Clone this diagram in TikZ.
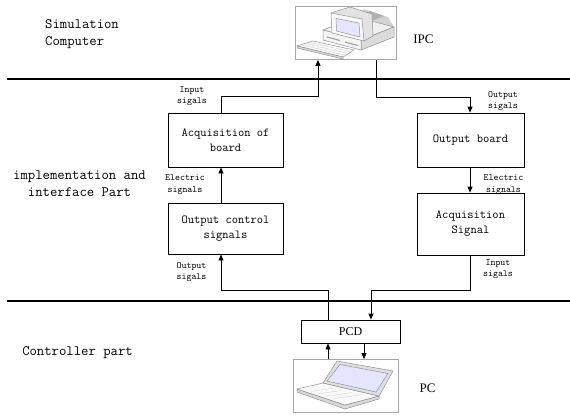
\documentclass[tikz,border=0pt]{standalone}
\usepackage{fontspec}
\setmainfont{Liberation Serif}
\usetikzlibrary{arrows.meta,calc}
\begin{document}
\begin{tikzpicture}[x=1pt,y=-1pt,
  blockbox/.style={draw=black,line width=0.8pt,inner sep=0pt,align=center,
    font=\ttfamily\fontsize{12.2}{15}\selectfont},
  iconbox/.style={draw=gray!70,line width=0.8pt,inner sep=0pt},
  conn/.style={line width=0.8pt,-{Triangle[length=6pt,width=5pt]}},
  sepline/.style={line width=1.6pt},
  siglabel/.style={align=center,inner sep=0pt,font=\ttfamily\fontsize{9.5}{11.5}\selectfont},
  partlabel/.style={inner sep=0pt,font=\ttfamily\fontsize{14.3}{17}\selectfont},
  devlabel/.style={inner sep=0pt,font=\fontsize{13}{15}\selectfont},
  case/.style={draw=gray!85,line width=0.5pt,fill=gray!12},
  screen/.style={draw=gray!85,line width=0.5pt,fill=blue!10},
]
\useasboundingbox (0,0) rectangle (570,416);

% layer separators
\draw[sepline] (7,79) -- (570,79);
\draw[sepline] (7,301) -- (570,301);

% layer names
\node[partlabel,align=left,anchor=west] (lsim) at (45,34.5) {Simulation\\Computer};
\node[partlabel,align=center] (limp) at (79.5,183.5) {implementation and\\interface Part};
\node[partlabel] (lctl) at (77.5,353) {Controller part};

% processing blocks
\node[blockbox,minimum width=115pt,minimum height=54pt] (acqb) at (225.5,140) {Acquisition of\\board};
\node[blockbox,minimum width=115pt,minimum height=51pt] (outc) at (225.5,228.5) {Output control\\signals};
\node[blockbox,minimum width=107pt,minimum height=54pt] (outb) at (470.5,140) {Output board};
\node[blockbox,minimum width=107pt,minimum height=62pt] (acqs) at (470.5,224) {Acquisition\\Signal};
\node[draw=black,line width=0.8pt,inner sep=0pt,minimum width=99pt,minimum height=23pt,
  font=\fontsize{12}{14}\selectfont] (pcd) at (350.5,331.5) {PCD};

% device frames
\node[iconbox,minimum width=101pt,minimum height=53pt] (ipc) at (346,33) {};
\node[iconbox,minimum width=105pt,minimum height=53pt] (pc) at (345.5,386) {};
\node[devlabel] (ipct) at (423.5,39.5) {IPC};
\node[devlabel] (pct) at (427.5,388) {PC};

% desktop computer: case
\fill[gray!35] (356,17) -- (364,9) -- (388,17) -- (394,27) -- cycle;
\draw[case] (323,30) -- (356,17) -- (394,27) -- (361,40) -- cycle;
\fill[gray!60] (360,15) -- (370,11) -- (384,16) -- (374,20) -- cycle;
\draw[case,fill=gray!28] (361,40) -- (394,27) -- (394,37) -- (361,50) -- cycle;
\draw[case,fill=gray!8] (323,30) -- (361,40) -- (361,50) -- (323,40) -- cycle;
\draw[gray!70,line width=1.2pt] (327,37) -- (340,40.5);
\draw[gray!70,line width=1.2pt] (345,42) -- (358,45.5);
% desktop computer: monitor
\draw[case,fill=gray!22] (331,13) -- (350,7) -- (372,14) -- (373,36) -- (364,41) -- cycle;
\draw[case,fill=gray!5] (331,13) -- (362,19) -- (364,41) -- (332,33) -- cycle;
\draw[screen] (336,18.5) -- (359,23) -- (360,37) -- (336.5,31) -- cycle;
% desktop computer: keyboard
\draw[case,fill=gray!4] (297,46) -- (313,41) -- (354,50) -- (343,57) -- cycle;
\draw[case,fill=gray!30] (297,46) -- (343,57) -- (343,59) -- (297,48) -- cycle;
\foreach \t in {0.25,0.5,0.75}
  \draw[gray!45,line width=0.3pt] ($(297,46)!\t!(313,41)$) -- ($(343,57)!\t!(354,50)$);

% laptop: base, keys, lid, screen
\draw[case,fill=gray!30] (297,389) -- (345,405) -- (379,396) -- (379,399) -- (345,409) -- (297,392) -- cycle;
\draw[case,fill=gray!5] (297,389) -- (323,383) -- (379,396) -- (345,405) -- cycle;
\foreach \t in {0.2,0.4,0.6,0.8}
  \draw[gray!40,line width=0.3pt] ($(303,389)!\t!(342,401)$) -- ($(324,386)!\t!(370,397)$);
\draw[case,fill=gray!25] (323,383) -- (337,361) -- (393,371) -- (379,396) -- cycle;
\draw[screen] (327,381) -- (340,364.5) -- (388,373.5) -- (376,392) -- cycle;

% signal labels
\node[siglabel] (s1) at (192,96) {Input\\sigals};
\node[siglabel] (s2) at (185,184.5) {Electric\\signals};
\node[siglabel] (s3) at (191.5,272) {Output\\sigals};
\node[siglabel] (s4) at (503,101) {Output\\sigals};
\node[siglabel] (s5) at (503.5,184.5) {Electric\\signals};
\node[siglabel] (s6) at (498,269) {Input\\sigals};

% connector routing columns
\coordinate (cl) at (221,96);
\coordinate (ci) at (318,96);
\coordinate (co) at (376,97);
\coordinate (cr) at (470,97);
\coordinate (bl) at (221,290);
\coordinate (bu) at (328,290);
\coordinate (bd) at (371,290);
\coordinate (br) at (470,290);
\coordinate (pdn) at (364,0);

% connectors
\draw[conn] (acqb.north -| cl) -- (cl) -- (ci) -- (ipc.south -| ci);
\draw[conn] (ipc.south -| co) -- (co) -- (cr) -- (outb.north -| cr);
\draw[conn] (outb.south -| cr) -- (acqs.north -| cr);
\draw[conn] (acqs.south -| br) -- (br) -- (bd) -- (pcd.north -| bd);
\draw[conn] (pcd.north -| bu) -- (bu) -- (bl) -- (outc.south -| bl);
\draw[conn] (outc.north -| cl) -- (acqb.south -| cl);
\draw[conn] (pc.north -| bu) -- (pcd.south -| bu);
\draw[conn] (pcd.south -| pdn) -- (pc.north -| pdn);
\end{tikzpicture}
\end{document}
